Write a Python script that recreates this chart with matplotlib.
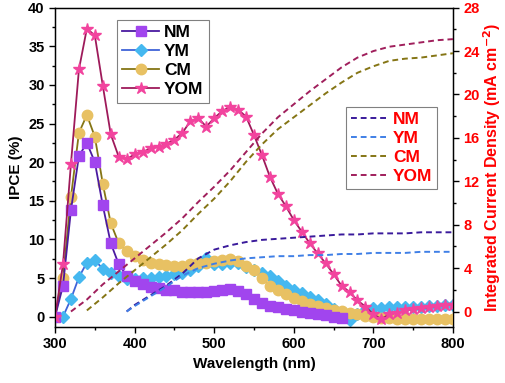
import matplotlib
matplotlib.use('Agg')
import matplotlib.pyplot as plt
from matplotlib.ticker import MultipleLocator

plt.rcParams['font.family'] = ['Liberation Sans', 'DejaVu Sans']
plt.rcParams['font.weight'] = 'bold'
plt.rcParams['mathtext.default'] = 'bf'

# IPCE data (10 nm steps)
wl_nm = list(range(300, 670, 10))
ipce_nm = [0, 4.0, 13.8, 20.8, 22.5, 20.0, 14.4, 9.5, 6.8, 5.3, 4.6, 4.2, 3.9, 3.7, 3.5,
           3.4, 3.2, 3.2, 3.2, 3.2, 3.3, 3.4, 3.6, 3.3, 2.9, 2.3, 1.8, 1.4, 1.2, 1.0,
           0.8, 0.6, 0.5, 0.3, 0.2, 0.0, -0.2]

wl_ym = list(range(310, 810, 10))
ipce_ym = [0, 2.3, 5.1, 7.0, 7.3, 6.2, 5.6, 5.2, 4.9, 4.9, 5.0, 5.0, 5.1, 5.3, 5.5,
           5.7, 6.0, 6.6, 7.6, 6.8, 6.8, 7.0, 6.9, 6.4, 6.0, 5.6, 5.2, 4.6, 4.0, 3.5,
           3.0, 2.6, 2.1, 1.6, 1.0, 0.4, -0.4, 0.3, 0.8, 1.1, 1.1, 1.2, 1.2, 1.3, 1.3,
           1.3, 1.4, 1.4, 1.5, 1.5]

wl_cm = list(range(300, 810, 10))
ipce_cm = [0, 5.0, 15.5, 23.8, 26.1, 23.3, 17.2, 12.1, 9.5, 8.5, 7.8, 7.3, 7.0, 6.8, 6.7,
           6.6, 6.6, 6.8, 7.0, 7.0, 7.2, 7.3, 7.4, 7.2, 6.6, 6.0, 5.0, 4.0, 3.5, 2.9,
           2.4, 2.0, 1.7, 1.4, 1.1, 0.9, 0.7, 0.5, 0.3, 0.1, -0.1, -0.2, -0.2, -0.3, -0.3,
           -0.3, -0.3, -0.3, -0.3, -0.3, -0.3]

wl_yom = list(range(300, 810, 10))
ipce_yom = [0, 6.8, 19.8, 32.0, 37.3, 36.4, 29.9, 23.6, 20.7, 20.4, 21.0, 21.3, 21.8, 22.0,
            22.4, 22.9, 23.8, 25.3, 25.7, 24.6, 25.7, 26.6, 27.2, 26.8, 25.9, 23.5, 20.9,
            18.1, 15.9, 14.3, 12.5, 11.0, 9.5, 8.2, 6.9, 5.5, 4.0, 3.2, 2.1, 1.3, 0.3,
            -0.3, 0.3, 0.5, 0.8, 1.0, 1.1, 1.2, 1.4, 1.5, 1.5]

# integrated current density (mA cm-2)
wl_j_nm = [390, 400, 420, 440, 460, 480, 500, 520, 540, 560, 580, 600, 620, 640, 660,
           680, 700, 720, 740, 760, 780, 800]
j_nm = [0, 0.6, 1.5, 2.4, 3.5, 4.9, 5.7, 6.1, 6.4, 6.6, 6.7, 6.8, 6.9, 7.0, 7.1,
        7.1, 7.2, 7.2, 7.2, 7.3, 7.3, 7.3]
j_ym = [0, 0.5, 1.4, 2.3, 3.3, 4.0, 4.4, 4.7, 4.9, 5.0, 5.1, 5.1, 5.2, 5.2, 5.3,
        5.3, 5.4, 5.4, 5.4, 5.5, 5.5, 5.5]
wl_j_cm = [340, 360, 380, 400, 420, 440, 460, 480, 500, 520, 540, 560, 580, 600, 620,
           640, 660, 680, 700, 720, 740, 760, 780, 800]
j_cm = [0.1, 1.3, 2.6, 3.8, 5.0, 6.2, 7.5, 9.0, 10.4, 12.0, 13.8, 15.4, 16.8, 17.9, 19.0,
        20.1, 21.1, 22.0, 22.6, 23.1, 23.3, 23.4, 23.6, 23.8]
wl_j_yom = [320, 340, 360, 380, 400, 420, 440, 460, 480, 500, 520, 540, 560, 580, 600,
            620, 640, 660, 680, 700, 720, 740, 760, 780, 800]
j_yom = [0, 1.1, 2.5, 3.7, 4.9, 6.1, 7.3, 8.6, 10.1, 11.5, 13.0, 14.7, 16.4, 17.9, 19.1,
         20.3, 21.4, 22.5, 23.4, 24.0, 24.4, 24.6, 24.8, 25.0, 25.1]

fig = plt.figure(figsize=(5.05, 3.83), dpi=100)
ax1 = fig.add_axes([0.109, 0.147, 0.788, 0.833])

l_ym, = ax1.plot(wl_ym, ipce_ym, '-D', color='#3f63d8', mfc='#45b8f0', mec='#45b8f0',
                 ms=6.5, lw=1.3, label='YM', zorder=2)
l_cm, = ax1.plot(wl_cm, ipce_cm, '-o', color='#857515', mfc='#e8c163', mec='#e8c163',
                 ms=7.5, lw=1.3, label='CM', zorder=3)
l_nm, = ax1.plot(wl_nm, ipce_nm, '-s', color='#4a1aa0', mfc='#a145ee', mec='#a145ee',
                 ms=6.5, lw=1.3, label='NM', zorder=4)
l_yom, = ax1.plot(wl_yom, ipce_yom, '-*', color='#9e1a5a', mfc='#f2449e', mec='#f2449e',
                  ms=9, lw=1.3, label='YOM', zorder=5)

ax1.set_xlim(300, 800)
ax1.set_ylim(-1.3, 40)
ax1.xaxis.set_major_locator(MultipleLocator(100))
ax1.xaxis.set_minor_locator(MultipleLocator(50))
ax1.yaxis.set_major_locator(MultipleLocator(5))
ax1.yaxis.set_minor_locator(MultipleLocator(2.5))
ax1.tick_params(which='both', direction='out', width=1, labelsize=10.5)
ax1.tick_params(which='major', length=4)
ax1.tick_params(which='minor', length=2.5)
ax1.set_xlabel('Wavelength (nm)', fontsize=11, fontweight='bold')
ax1.set_ylabel('IPCE (%)', fontsize=11, fontweight='bold', labelpad=4)
for s in ax1.spines.values():
    s.set_linewidth(1.0)

leg_font = {'weight': 'bold', 'size': 12.5}
leg1 = ax1.legend(handles=[l_nm, l_ym, l_cm, l_yom], loc='upper left',
                  bbox_to_anchor=(0.156, 0.961), borderaxespad=0, prop=leg_font,
                  fancybox=False, edgecolor='#808080', framealpha=1,
                  handlelength=2.1, handletextpad=0.3, labelspacing=0.22,
                  borderpad=0.3)
leg1.get_frame().set_linewidth(0.8)

ax2 = ax1.twinx()
d_nm, = ax2.plot(wl_j_nm, j_nm, '--', color='#3a1a9b', lw=1.4, dashes=(3, 2), label='NM')
d_ym, = ax2.plot(wl_j_nm, j_ym, '--', color='#3f7fe6', lw=1.4, dashes=(3, 2), label='YM')
d_cm, = ax2.plot(wl_j_cm, j_cm, '--', color='#857515', lw=1.4, dashes=(3, 2), label='CM')
d_yom, = ax2.plot(wl_j_yom, j_yom, '--', color='#a01f5c', lw=1.4, dashes=(3, 2), label='YOM')
ax2.set_ylim(-1.4, 28)
ax2.yaxis.set_major_locator(MultipleLocator(4))
ax2.yaxis.set_minor_locator(MultipleLocator(2))
ax2.tick_params(which='both', direction='out', width=1, labelsize=10.5, labelcolor='red')
ax2.tick_params(which='major', length=4)
ax2.tick_params(which='minor', length=2.5)
ax2.set_ylabel('Integrated Current Density (mA cm$^{-2}$)', color='red',
               fontsize=11.5, fontweight='bold')
ax2.yaxis.set_label_coords(1.07, 0.5)

leg2 = ax2.legend(handles=[d_nm, d_ym, d_cm, d_yom], loc='upper left',
                  bbox_to_anchor=(0.731, 0.689), borderaxespad=0, prop=leg_font,
                  fancybox=False, edgecolor='#808080', framealpha=1,
                  handlelength=2.1, handletextpad=0.3, labelspacing=0.22,
                  borderpad=0.3)
leg2.get_frame().set_linewidth(0.8)
for t in leg2.get_texts():
    t.set_color('red')

fig.savefig('out.png', dpi=100)
